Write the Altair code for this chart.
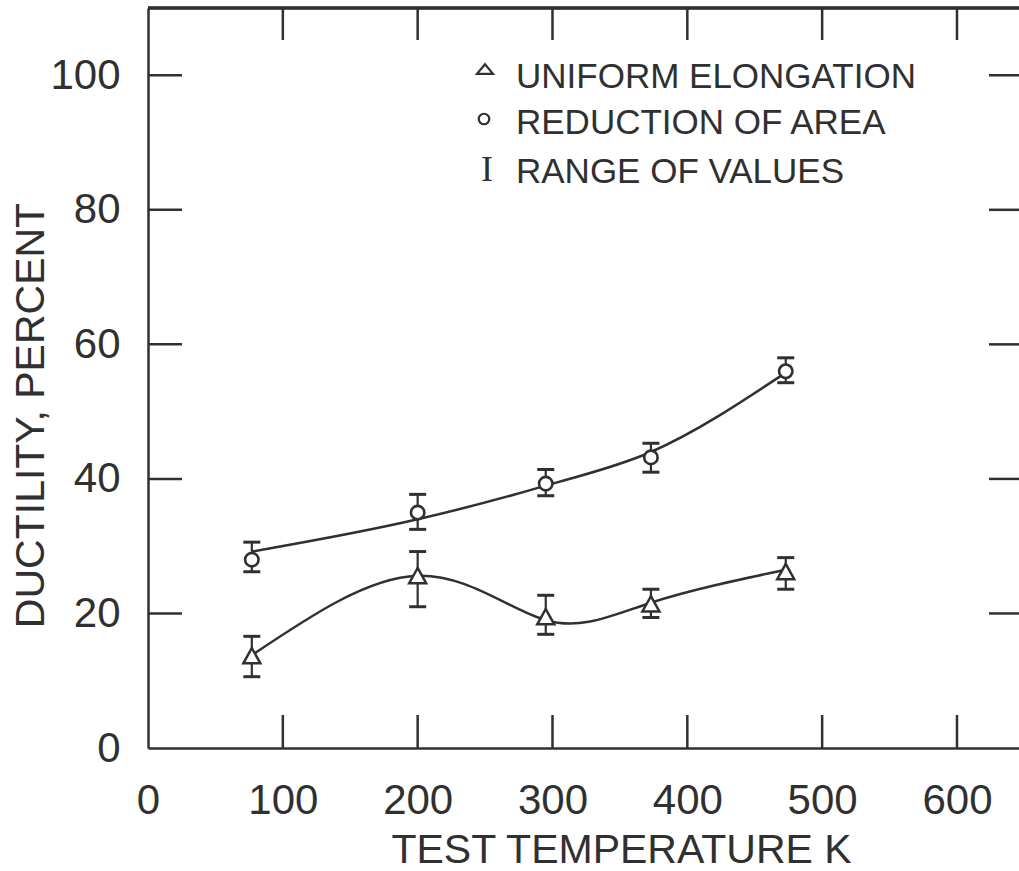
import altair as alt
import pandas as pd

# Test temperatures, K
temps = [77, 200, 295, 373, 473]

# Reduction of area, percent: mean with low/high of the range
ra_mean = [28.0, 35.0, 39.3, 43.2, 56.0]
ra_low = [26.2, 32.5, 37.5, 41.0, 54.3]
ra_high = [30.6, 37.7, 41.4, 45.3, 58.0]

# Uniform elongation, percent: mean with low/high of the range
ue_mean = [13.6, 25.5, 19.4, 21.3, 26.1]
ue_low = [10.6, 21.0, 16.9, 19.4, 23.6]
ue_high = [16.6, 29.2, 22.7, 23.6, 28.3]

# Faired curves through the data
ra_curve = [29.2, 34.0, 39.0, 44.0, 55.8]
ue_curve = [13.8, 25.6, 19.0, 21.6, 26.5]

# Axis ticks and labels
x_labels = [0, 100, 200, 300, 400, 500, 600]
x_ticks = [100, 200, 300, 400, 500, 600]
y_labels = [0, 20, 40, 60, 80, 100]
y_ticks = [20, 40, 60, 80, 100]

legend_labels = ["UNIFORM ELONGATION", "REDUCTION OF AREA", "RANGE OF VALUES"]

INK = "#303030"
FONT = "Liberation Sans"
W, H = 871, 740
X_MAX, Y_MAX = 646, 110

TRI = "M0,-1L1,0.8L-1,0.8Z"
TRI_FLAT = "M0,-0.6L1,0.6L-1,0.6Z"

pts = pd.DataFrame({
    "temp": temps * 2,
    "mean": ra_mean + ue_mean,
    "low": ra_low + ue_low,
    "high": ra_high + ue_high,
    "series": ["ra"] * 5 + ["ue"] * 5,
})
ra_line = pd.DataFrame({"temp": temps, "val": ra_curve})
ue_line = pd.DataFrame({"temp": temps, "val": ue_curve})

xs = alt.Scale(domain=[0, X_MAX], nice=False, zero=False)
ys = alt.Scale(domain=[0, Y_MAX], nice=False, zero=False)

x_axis = alt.Axis(
    orient="bottom", values=x_labels, title="TEST TEMPERATURE K", grid=False,
    ticks=False, tickSize=0, domain=True, domainColor=INK, domainWidth=2.5,
    labelFont=FONT, labelFontSize=42, labelColor=INK, labelPadding=32,
    labelFlush=False, labelOverlap=False, labelBound=False,
    titleFont=FONT, titleFontSize=41, titleFontWeight="normal", titleColor=INK,
    titleX=473, titleY=102, titleBaseline="middle", titleAlign="center",
)
y_axis = alt.Axis(
    orient="left", values=y_labels, title="DUCTILITY, PERCENT", grid=False,
    ticks=False, tickSize=0, domain=True, domainColor=INK, domainWidth=2.5,
    labelFont=FONT, labelFontSize=42, labelColor=INK, labelPadding=28,
    labelOverlap=False, labelBound=False, labelFlush=False,
    titleFont=FONT, titleFontSize=41, titleFontWeight="normal", titleColor=INK,
    titleX=-117, titleY=407, titleAngle=270, titleBaseline="middle", titleAlign="center",
)


def X(field):
    return alt.X(field, scale=xs, axis=x_axis)


def Y(field):
    return alt.Y(field, scale=ys, axis=y_axis)


ra_curve_layer = alt.Chart(ra_line).mark_line(
    interpolate="monotone", color=INK, strokeWidth=2.5
).encode(x=X("temp:Q"), y=Y("val:Q"))
ue_curve_layer = alt.Chart(ue_line).mark_line(
    interpolate="natural", color=INK, strokeWidth=2.5
).encode(x=X("temp:Q"), y=Y("val:Q"))

stems = alt.Chart(pts).mark_rule(color=INK, strokeWidth=2.2).encode(
    x=X("temp:Q"), y=Y("low:Q"), y2="high:Q"
)
caps_lo = alt.Chart(pts).mark_tick(
    orient="horizontal", color=INK, size=17, thickness=3, opacity=1
).encode(x=X("temp:Q"), y=Y("low:Q"))
caps_hi = alt.Chart(pts).mark_tick(
    orient="horizontal", color=INK, size=17, thickness=3, opacity=1
).encode(x=X("temp:Q"), y=Y("high:Q"))

circles = alt.Chart(pts).transform_filter(alt.datum.series == "ra").mark_point(
    shape="circle", size=180, filled=False, fill="white", fillOpacity=1,
    stroke=INK, strokeWidth=2.6, opacity=1,
).encode(x=X("temp:Q"), y=Y("mean:Q"))
triangles = alt.Chart(pts).transform_filter(alt.datum.series == "ue").mark_point(
    shape=TRI, size=289, filled=False, fill="white", fillOpacity=1,
    stroke=INK, strokeWidth=2.5, opacity=1,
).encode(x=X("temp:Q"), y=Y("mean:Q"))

# Inward-pointing ticks on all four sides of the frame
tick_x_df = pd.DataFrame({"temp": x_ticks})
tick_y_df = pd.DataFrame({"val": y_ticks})
bottom_ticks = alt.Chart(tick_x_df).mark_rule(color=INK, strokeWidth=2.5).encode(
    x=X("temp:Q"), y=alt.value(H), y2=alt.value(H - 33)
)
top_ticks = alt.Chart(tick_x_df).mark_rule(color=INK, strokeWidth=2.5).encode(
    x=X("temp:Q"), y=alt.value(0), y2=alt.value(32)
)
left_ticks = alt.Chart(tick_y_df).mark_rule(color=INK, strokeWidth=2.5).encode(
    y=Y("val:Q"), x=alt.value(0), x2=alt.value(34)
)
right_ticks = alt.Chart(tick_y_df).mark_rule(color=INK, strokeWidth=2.5).encode(
    y=Y("val:Q"), x=alt.value(W - 30), x2=alt.value(W)
)
top_frame = alt.Chart(tick_x_df).mark_rule(color=INK, strokeWidth=2.5).encode(
    x=alt.value(0), x2=alt.value(W), y=alt.value(0)
)


# Key in the upper part of the frame
def key_text(label, ypix):
    return alt.Chart(pd.DataFrame({"label": [label]})).mark_text(
        align="left", baseline="middle", font=FONT, fontSize=35, color=INK
    ).encode(x=alt.value(368), y=alt.value(ypix), text="label:N")


key_rows = [key_text(lbl, yp) for lbl, yp in zip(legend_labels, [69, 115, 164])]

one = pd.DataFrame({"k": [0]})
leg_tri = alt.Chart(one).mark_point(
    shape=TRI_FLAT, size=256, filled=False, stroke=INK, strokeWidth=2.2, opacity=1
).encode(x=alt.value(337), y=alt.value(61))
leg_circ = alt.Chart(one).mark_point(
    shape="circle", size=110, filled=False, stroke=INK, strokeWidth=2.2, opacity=1
).encode(x=alt.value(336), y=alt.value(111))
leg_bar = alt.Chart(one).mark_text(
    text="I", font="Liberation Serif", fontSize=36, color=INK, baseline="middle", align="center"
).encode(x=alt.value(339), y=alt.value(162))

chart = alt.layer(
    ra_curve_layer, ue_curve_layer, stems, caps_lo, caps_hi, circles, triangles,
    bottom_ticks, top_ticks, left_ticks, right_ticks, top_frame,
    *key_rows, leg_tri, leg_circ, leg_bar,
).properties(
    width=W, height=H,
    padding={"left": 148, "top": 8, "right": 0, "bottom": 122},
    autosize=alt.AutoSizeParams(type="none"),
    background="white",
).configure_view(stroke=None)

chart.save("out.html", embed_options={"renderer": "svg", "actions": False})
